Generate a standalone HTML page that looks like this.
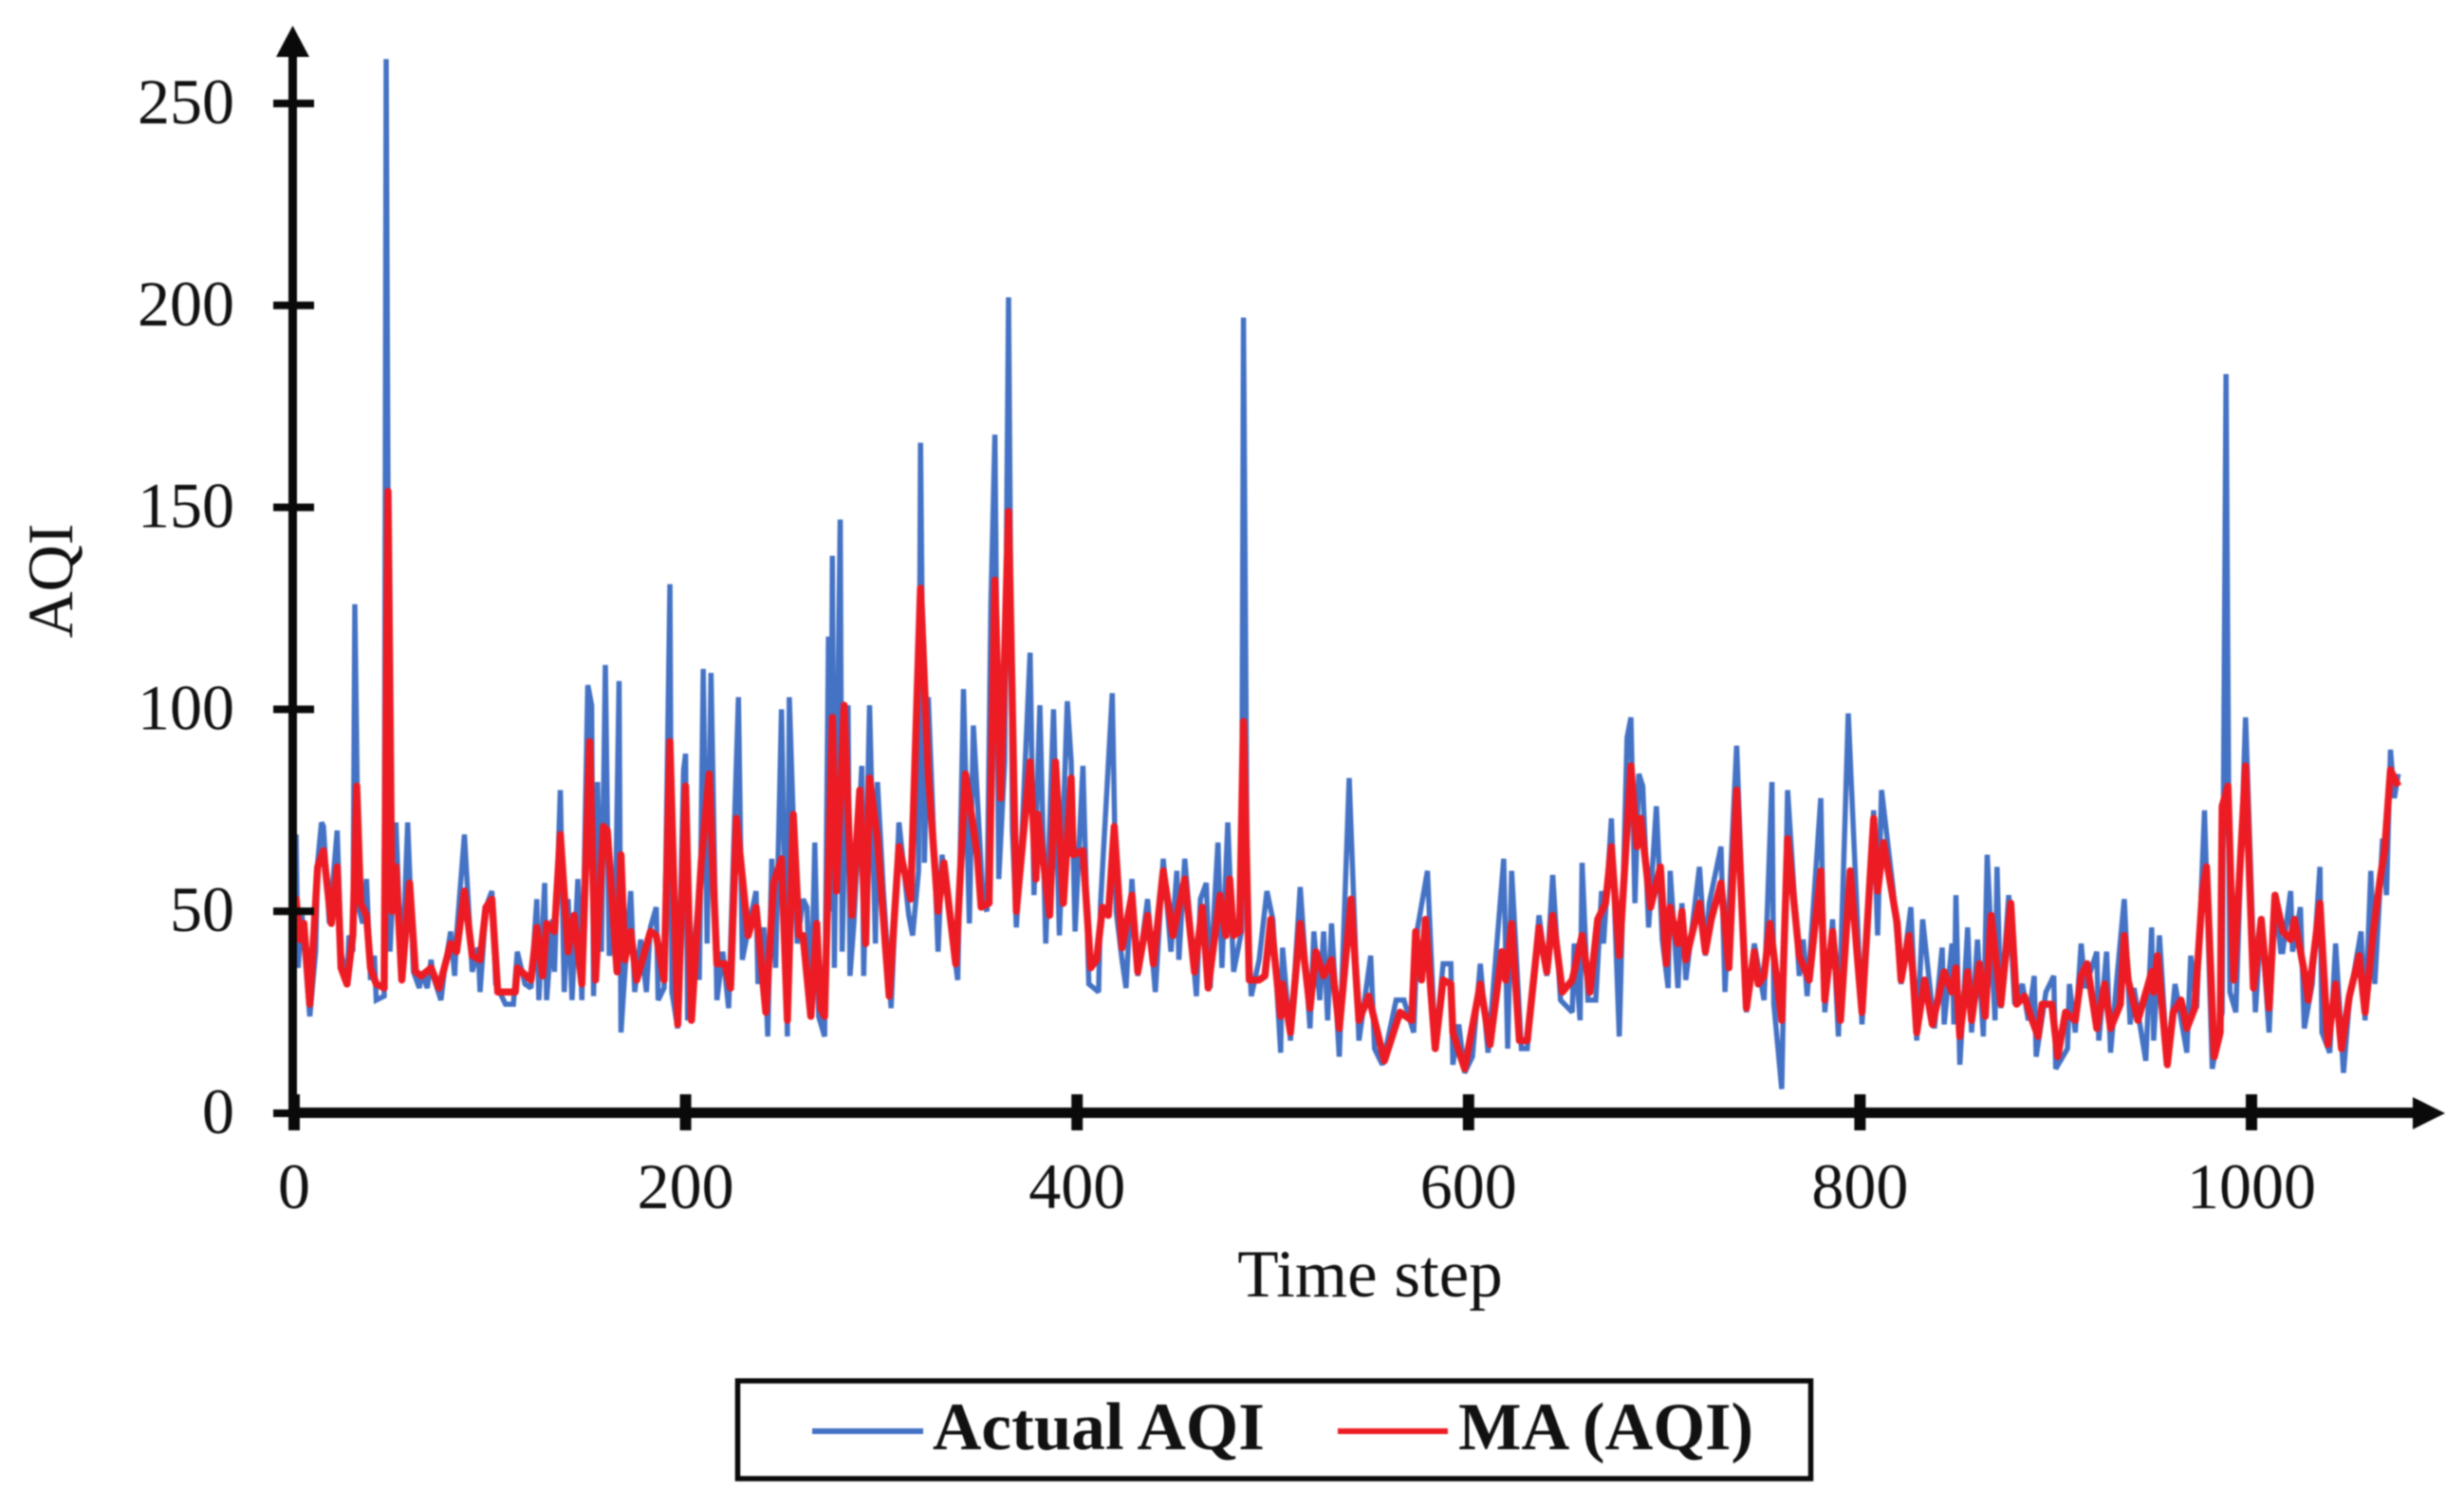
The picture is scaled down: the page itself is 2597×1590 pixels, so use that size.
<!DOCTYPE html>
<html lang="en">
<head>
<meta charset="utf-8">
<title>Actual AQI and MA (AQI) over time</title>
<style>
  html, body { margin: 0; padding: 0; background: #ffffff; }
  svg { display: block; filter: blur(0.7px); }
  text { font-family: "Liberation Serif", "Times New Roman", serif; fill: #111111; }
</style>
</head>
<body>
<svg id="chart" xmlns="http://www.w3.org/2000/svg" width="2597" height="1590" viewBox="0 0 2597 1590">
  <rect x="0" y="0" width="2597" height="1590" fill="#ffffff"/>
  <g id="series-layer"></g>
  <g id="axis-layer">
    <line x1="308.500" y1="1178" x2="308.500" y2="58" stroke="#0a0a0a" stroke-width="9"/>
    <polygon points="308.500,27 291,60 326,60" fill="#0a0a0a"/>
    <line x1="304" y1="1172.500" x2="2545" y2="1172.500" stroke="#0a0a0a" stroke-width="11"/>
    <polygon points="2577,1173 2543,1156 2543,1190" fill="#0a0a0a"/>
  </g>
  <text transform="translate(76 612) rotate(-90)" text-anchor="middle" font-size="68">AQI</text>
  <text x="1444" y="1366" text-anchor="middle" font-size="71">Time step</text>
  <g>
    <rect x="777.500" y="1455" width="1131" height="103" fill="#ffffff" stroke="#0a0a0a" stroke-width="5.500"/>
    <line x1="856" y1="1508" x2="973" y2="1508" stroke="#4472c4" stroke-width="6"/>
    <text x="983" y="1527" font-size="71" font-weight="bold" textLength="350" lengthAdjust="spacingAndGlyphs">Actual AQI</text>
    <line x1="1410" y1="1508" x2="1526" y2="1508" stroke="#ed1c24" stroke-width="6"/>
    <text x="1537" y="1527" font-size="71" font-weight="bold" textLength="311" lengthAdjust="spacingAndGlyphs">MA (AQI)</text>
  </g>
</svg>
<script>
const xTickValues = [0, 200, 400, 600, 800, 1000];
const yTickValues = [0, 50, 100, 150, 200, 250];

const actualSteps = [
  0,1,2,4,8,11,12,14,15,18,
  22,24,27,28,30,31,33,35,37,39,
  41,42,46,47,49,52,55,58,61,64,
  65,68,70,71,75,77,80,82,83,87,
  91,94,95,98,101,103,108,112,114,118,
  121,124,125,128,129,132,133,136,138,140,
  142,145,147,150,152,153,155,157,159,161,
  164,166,167,169,172,174,177,180,182,185,
  186,189,192,193,196,199,200,201,206,207,
  209,211,213,216,219,222,227,229,233,236,
  237,240,242,244,246,249,252,253,257,260,
  262,264,266,268,271,273,274,275,276,279,
  280,283,284,286,290,291,294,297,298,301,
  305,309,314,316,319,320,322,324,329,331,
  335,339,342,345,347,352,354,356,358,360,
  363,365,367,369,372,376,378,381,384,388,
  391,395,397,399,403,406,411,412,418,420,
  423,425,428,431,436,440,444,448,451,452,
  455,461,463,466,468,470,472,474,477,480,
  484,485,487,489,493,497,500,504,505,509,
  514,519,521,524,526,528,530,534,539,544,
  550,552,556,563,567,572,574,579,583,587,
  591,592,595,598,602,606,610,618,620,622,
  627,630,636,640,643,647,653,654,657,658,
  661,665,668,669,673,677,681,683,685,687,
  689,692,696,699,702,703,707,709,711,718,
  721,723,729,731,737,742,746,751,755,756,
  760,763,769,771,773,780,782,786,789,794,
  801,807,809,811,817,821,826,829,832,838,
  842,843,847,848,849,851,855,857,860,863,
  865,869,870,872,876,879,883,886,889,890,
  895,899,900,906,907,910,913,915,921,922,
  926,928,931,935,938,940,946,949,950,953,
  957,961,967,969,972,976,980,985,987,989,
  992,997,1002,1005,1009,1012,1015,1016,1020,1021,
  1025,1027,1031,1035,1036,1040,1043,1047,1050,1056,
  1058,1061,1063,1067,1069,1071,1073,1075
];
const actualValues = [
  52,69,36,49,24,40,62,72,71,47,
  70,40,32,44,40,126,51,47,58,33,
  39,28,29,261,40,72,33,72,35,31,
  35,31,38,34,28,36,45,34,44,69,
  35,41,30,51,55,32,27,27,40,32,
  31,53,28,57,28,48,35,80,30,53,
  28,58,28,106,101,29,82,40,111,39,
  45,107,20,35,55,30,43,30,46,51,
  28,31,131,30,21,85,89,23,50,33,
  110,42,109,28,40,26,103,38,48,55,
  32,46,19,63,36,100,19,103,42,53,
  51,24,67,24,19,118,50,138,36,147,
  40,101,34,47,86,34,101,42,82,55,
  26,72,49,44,60,166,62,103,40,64,
  48,33,105,47,96,52,50,126,168,58,
  87,202,70,46,70,114,54,101,42,100,
  44,102,87,45,86,32,30,52,104,50,
  38,31,58,34,53,30,63,40,60,38,
  63,29,53,57,31,50,67,36,72,35,
  45,197,50,29,38,55,48,15,41,18,
  56,21,45,28,45,23,47,14,83,18,
  39,16,12,28,28,20,46,60,16,37,
  37,12,22,10,14,37,15,63,16,60,
  16,16,49,34,59,28,25,42,23,62,
  28,28,55,42,73,19,93,98,52,84,
  81,46,76,43,31,60,31,52,33,61,
  39,52,66,30,91,25,42,28,82,27,
  6,80,34,43,29,78,25,48,19,99,
  22,75,44,80,55,32,51,18,48,21,
  41,22,42,22,54,12,46,20,43,19,
  64,23,61,26,54,27,32,23,34,14,
  30,34,11,16,32,20,42,31,40,18,
  40,15,32,53,22,31,13,46,18,44,
  12,32,15,39,26,75,11,25,183,30,
  25,98,25,48,20,54,40,40,55,40,
  51,21,32,61,20,15,42,10,28,45,
  23,60,32,68,54,90,78,84
];

const maSteps = [
  0,1,3,5,8,12,15,19,22,24,
  27,30,32,34,37,39,42,46,47,48,
  50,52,55,59,62,65,70,74,80,83,
  87,91,95,98,101,104,110,113,114,121,
  124,127,129,133,136,140,143,147,151,154,
  158,160,165,167,169,172,175,182,185,189,
  192,196,200,203,208,212,216,220,223,226,
  232,236,241,245,249,252,255,258,260,264,
  267,269,271,275,277,281,285,289,292,294,
  298,304,309,315,320,324,329,332,338,343,
  349,351,355,358,361,365,369,376,379,380,
  386,389,393,397,398,403,407,410,413,416,
  419,423,428,431,436,439,444,449,455,460,
  464,467,473,476,478,480,483,485,488,493,
  496,499,504,505,509,514,519,522,526,530,
  534,540,544,549,557,565,571,573,576,578,
  583,587,591,592,598,606,611,617,619,622,
  626,630,636,640,643,648,653,658,662,666,
  670,673,677,683,686,688,693,698,701,703,
  707,709,711,718,721,724,729,733,737,742,
  746,748,751,754,760,763,769,774,780,782,
  786,790,795,801,807,809,812,819,821,825,
  827,829,833,837,843,847,849,851,855,857,
  861,864,867,872,877,880,884,888,891,893,
  898,901,905,910,913,916,921,925,928,933,
  935,937,942,949,950,952,957,960,964,967,
  971,975,977,981,984,985,988,991,997,1001,
  1005,1009,1012,1016,1020,1022,1027,1029,1035,1039,
  1043,1046,1050,1055,1058,1062,1066,1068,1071,1075
];
const maValues = [
  50,53,43,47,27,61,65,47,61,36,
  32,44,81,52,49,36,32,31,100,154,
  50,61,33,57,35,34,36,31,42,40,
  55,39,38,51,53,30,30,30,36,33,
  46,34,47,45,69,40,49,32,92,33,
  71,70,35,64,38,45,33,45,44,33,
  92,22,81,23,62,84,37,37,31,73,
  44,51,25,57,63,23,74,44,44,24,
  47,26,24,98,55,101,49,80,42,83,
  68,29,66,53,130,84,50,62,37,84,
  64,51,52,132,78,149,50,87,58,74,
  49,87,52,83,64,65,36,38,51,49,
  71,41,54,35,49,37,60,44,58,35,
  51,31,54,44,58,44,45,97,33,33,
  34,48,24,32,20,47,26,40,34,38,
  21,53,23,29,13,25,23,45,33,48,
  16,33,32,20,11,32,17,40,33,47,
  18,18,46,35,49,30,33,44,30,48,
  52,66,39,86,66,73,51,61,37,51,
  42,50,38,52,40,48,57,36,80,26,
  40,32,34,47,23,68,39,33,60,28,
  45,23,60,25,73,55,67,47,33,44,
  35,20,33,22,35,30,36,19,35,23,
  37,24,49,27,52,27,29,23,19,27,
  27,14,25,23,34,37,21,32,21,27,
  44,33,23,35,30,39,12,25,28,21,
  26,55,61,14,20,76,81,33,86,31,
  48,26,54,45,43,48,35,28,52,17,
  32,16,29,39,25,44,59,65,85,81
];

const SVG_NS = 'http://www.w3.org/2000/svg';
const xOrigin = 310;
const xPerStep = 2.063;
const yOrigin = 1173;
const yPerUnit = 4.256;

function xScale(step) {
  return xOrigin + step * xPerStep;
}
function yScale(value) {
  return yOrigin - value * yPerUnit;
}
function pointString(steps, values) {
  const count = Math.min(steps.length, values.length);
  const out = [];
  for (let i = 0; i < count; i++) {
    out.push(xScale(steps[i]).toFixed(1) + ',' + yScale(values[i]).toFixed(1));
  }
  return out.join(' ');
}

const seriesLayer = document.getElementById('series-layer');
const axisLayer = document.getElementById('axis-layer');
const chart = document.getElementById('chart');

const actualLine = document.createElementNS(SVG_NS, 'polyline');


actualLine.setAttribute('points', pointString(actualSteps, actualValues));
actualLine.setAttribute('fill', 'none');
actualLine.setAttribute('stroke', '#4472c4');
actualLine.setAttribute('stroke-width', '5.5');
actualLine.setAttribute('stroke-linejoin', 'miter');
actualLine.setAttribute('stroke-miterlimit', '2');
seriesLayer.appendChild(actualLine);

const maLine = document.createElementNS(SVG_NS, 'polyline');


maLine.setAttribute('points', pointString(maSteps, maValues));
maLine.setAttribute('fill', 'none');
maLine.setAttribute('stroke', '#ed1c24');
maLine.setAttribute('stroke-width', '7.5');
maLine.setAttribute('stroke-linejoin', 'round');
seriesLayer.appendChild(maLine);

xTickValues.forEach(function (value) {
  const tick = document.createElementNS(SVG_NS, 'rect');
  
  
  tick.setAttribute('x', xScale(value) - 6);
  tick.setAttribute('y', yOrigin - 20);
  tick.setAttribute('width', 12);
  tick.setAttribute('height', 38);
  tick.setAttribute('fill', '#0a0a0a');
  axisLayer.appendChild(tick);

  const label = document.createElementNS(SVG_NS, 'text');
  
  
  label.setAttribute('x', xScale(value));
  label.setAttribute('y', 1273);
  label.setAttribute('text-anchor', 'middle');
  label.setAttribute('font-size', '68');
  label.textContent = String(value);
  chart.appendChild(label);
});

yTickValues.forEach(function (value) {
  const tick = document.createElementNS(SVG_NS, 'rect');
  
  
  tick.setAttribute('x', 288);
  tick.setAttribute('y', yScale(value) - 4);
  tick.setAttribute('width', 43);
  tick.setAttribute('height', 8);
  tick.setAttribute('fill', '#0a0a0a');
  axisLayer.appendChild(tick);

  const label = document.createElementNS(SVG_NS, 'text');
  
  
  label.setAttribute('x', 247);
  label.setAttribute('y', yScale(value) + 21);
  label.setAttribute('text-anchor', 'end');
  label.setAttribute('font-size', '68');
  label.textContent = String(value);
  chart.appendChild(label);
});
</script>
</body>
</html>
